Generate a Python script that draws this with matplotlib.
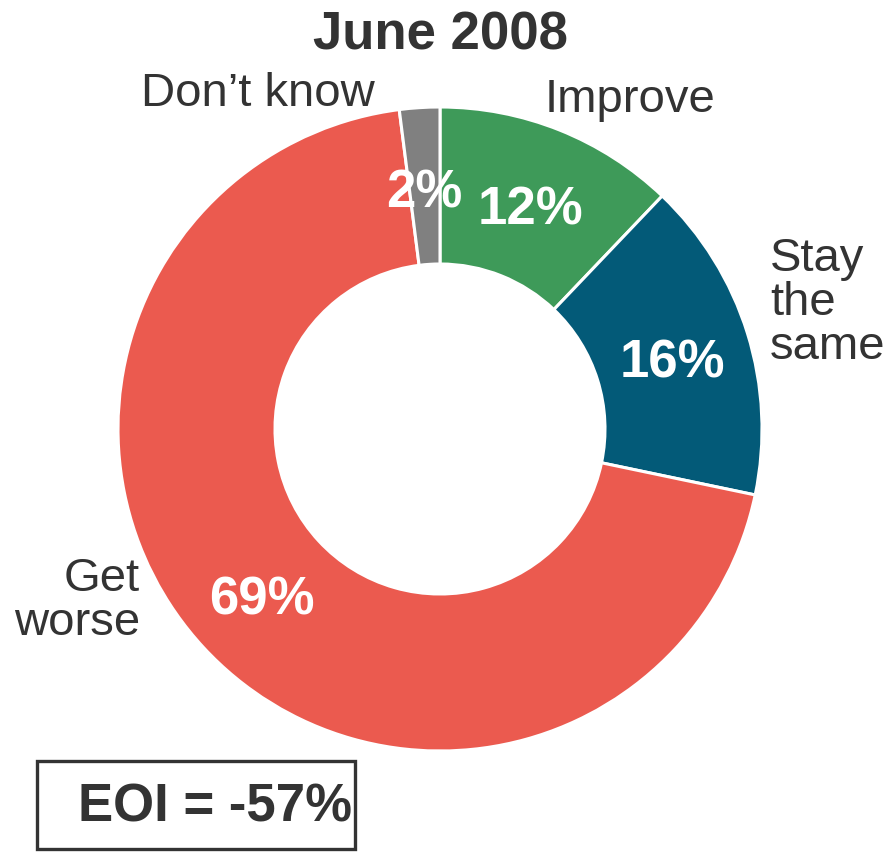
import matplotlib
matplotlib.use("Agg")
import matplotlib.pyplot as plt
from matplotlib.patches import Rectangle
import numpy as np

plt.rcParams['font.family'] = ['Liberation Sans', 'DejaVu Sans']

title = "June 2008"
categories = ["Improve", "Stay the same", "Get worse", "Don\u2019t know"]
values = [12, 16, 69, 2]
pct_labels = ["12%", "16%", "69%", "2%"]
colors = ["#3E9A59", "#035A78", "#EB5A4F", "#808080"]
eoi_text = "EOI = -57%"

W, H = 888, 853
fig = plt.figure(figsize=(W / 100, H / 100), dpi=100)
ax = fig.add_axes([0, 0, 1, 1])

cx, cy = 440, H - 430
R, r_in = 322, 165
wedges, _ = ax.pie(values, colors=colors, startangle=90, counterclock=False,
                   radius=R, center=(cx, cy),
                   wedgeprops=dict(width=R - r_in, edgecolor="white", linewidth=2.2))
ax.set_xlim(0, W)
ax.set_ylim(0, H)
ax.set_aspect("equal")
ax.axis("off")

# percentage labels inside wedges
rl = 243
for w, lab in zip(wedges, pct_labels):
    ang = np.deg2rad((w.theta1 + w.theta2) / 2)
    ax.text(cx + rl * np.cos(ang), cy + rl * np.sin(ang) - 6, lab, color="white",
            fontsize=38, fontweight="bold", ha="center", va="center")

txtc = "#333333"
def P(x, y):
    return x, H - y

ax.text(*P(440, 35), title, fontsize=38, fontweight="bold", color=txtc,
        ha="center", va="center")
ax.text(*P(630, 100), categories[0], fontsize=34, color=txtc, ha="center", va="center")
ax.text(*P(770, 303), "Stay\nthe\nsame", fontsize=34, color=txtc, ha="left",
        va="center", linespacing=1.0)
ax.text(*P(140, 601), "Get\nworse", fontsize=34, color=txtc, ha="right",
        va="center", linespacing=1.0, multialignment="right")
ax.text(*P(258, 94), categories[3], fontsize=34, color=txtc, ha="center", va="center")

# EOI box
ax.add_patch(Rectangle((37, H - 850), 318, 88, fill=False, edgecolor=txtc,
                       linewidth=2.4, clip_on=False))
ax.text(*P(78, 808), eoi_text, fontsize=38, fontweight="bold", color=txtc,
        ha="left", va="center")

fig.savefig("out.png", dpi=100)
